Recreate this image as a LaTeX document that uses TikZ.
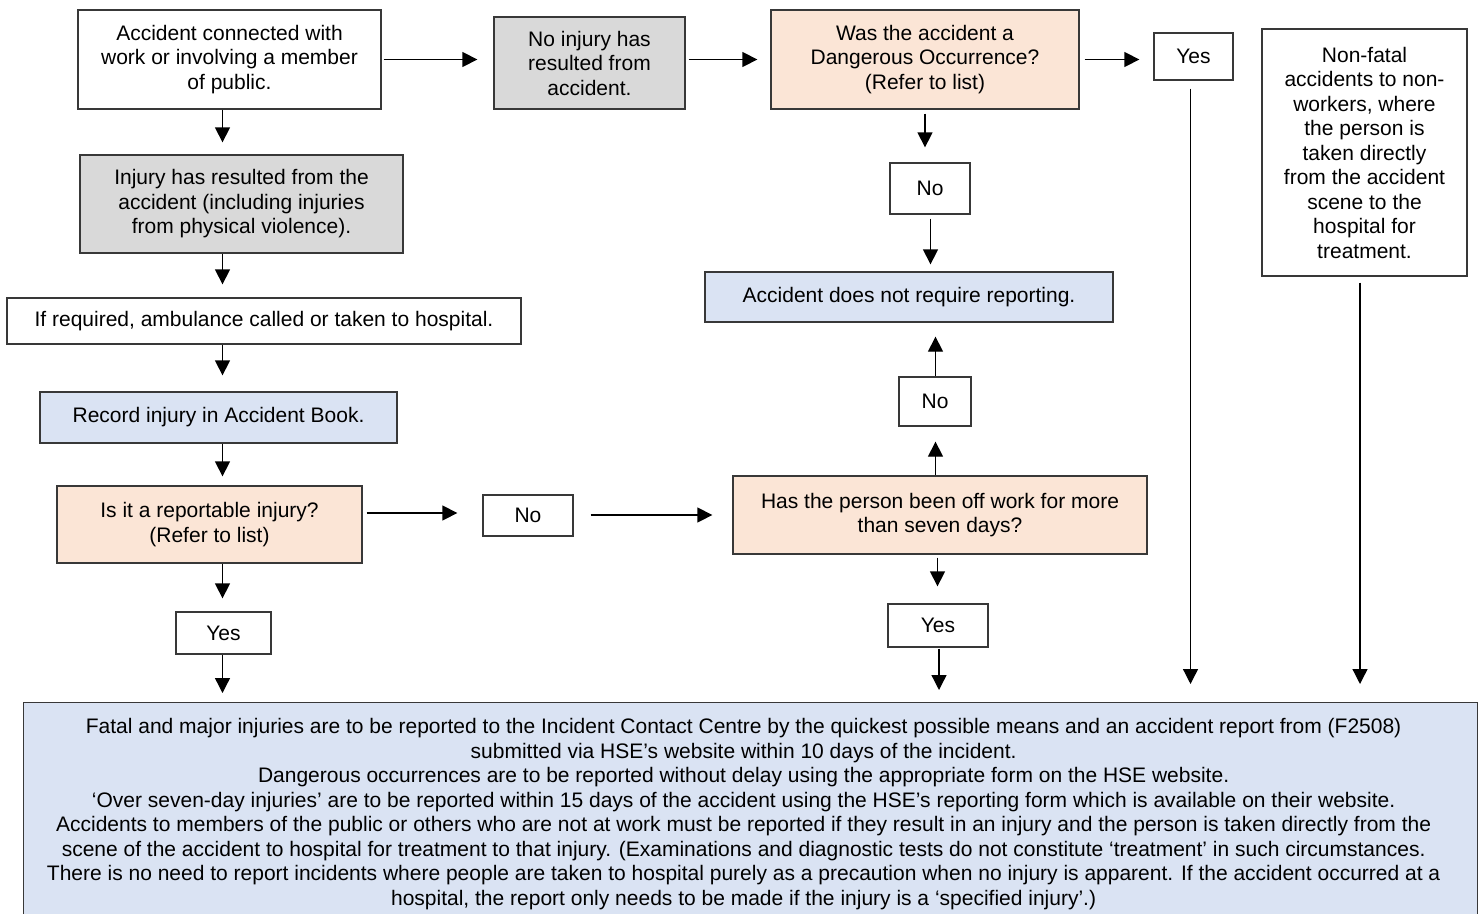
\documentclass[tikz,border=0pt]{standalone}
\usepackage{fontspec}
\setmainfont{Liberation Sans}
\usetikzlibrary{arrows.meta}
\definecolor{gfill}{HTML}{D9D9D9}
\definecolor{pfill}{HTML}{FBE5D6}
\definecolor{bfill}{HTML}{DAE3F3}
\definecolor{edgecol}{HTML}{383838}
\begin{document}
\begin{tikzpicture}[x=1pt,y=-1pt,
  box/.style={draw=edgecol, line width=1.3pt, align=center, inner sep=0pt,
    font=\fontsize{21}{24.5}\selectfont},
  gbox/.style={box, fill=gfill},
  pbox/.style={box, fill=pfill},
  bbox/.style={box, fill=bfill},
  wbox/.style={box, fill=white},
  botbox/.style={draw=edgecol, line width=1.3pt, fill=bfill, inner xsep=0pt, inner ysep=16pt},
  arr/.style={line width=1.3pt, -{Triangle[length=15pt,width=15pt]}}]
\clip (0,0) rectangle (1480,913);
\fill[white] (0,0) rectangle (1480,913);

% nodes
\node[wbox, minimum width=303pt, minimum height=99pt] (A) at (229.5,59.5)
  {Accident connected with\\work or involving a member\\of public.};
\node[gbox, minimum width=191pt, minimum height=92pt] (B) at (589.5,63)
  {No injury has\\resulted from\\accident.};
\node[pbox, minimum width=308pt, minimum height=99pt] (C) at (925,59.5)
  {Was the accident a\\Dangerous Occurrence?\\(Refer to list)};
\node[wbox, minimum width=79pt, minimum height=47pt] (Yes1) at (1193.5,56.5) {Yes};
\node[wbox, minimum width=205pt, minimum height=247pt] (NF) at (1364.5,152.5)
  {Non-fatal\\accidents to non-\\workers, where\\the person is\\taken directly\\from the accident\\scene to the\\hospital for\\treatment.};
\node[gbox, minimum width=323pt, minimum height=98pt] (Inj) at (241.5,204)
  {Injury has resulted from the\\accident (including injuries\\from physical violence).};
\node[wbox, minimum width=514pt, minimum height=46pt] (Amb) at (264,321)
  {If required, ambulance called or taken to hospital.};
\node[bbox, minimum width=357pt, minimum height=51pt] (Rec) at (218.5,417.5)
  {Record injury in Accident Book.};
\node[pbox, minimum width=305pt, minimum height=77pt] (Rep) at (209.5,524.5)
  {Is it a reportable injury?\\(Refer to list)};
\node[wbox, minimum width=90pt, minimum height=41pt] (No1) at (528,515.5) {No};
\node[pbox, minimum width=414pt, minimum height=78pt] (Has) at (940,515)
  {Has the person been off work for more\\than seven days?};
\node[wbox, minimum width=95pt, minimum height=42pt] (Yes2) at (223.5,633) {Yes};
\node[wbox, minimum width=100pt, minimum height=43pt] (Yes3) at (938,625.5) {Yes};
\node[wbox, minimum width=80pt, minimum height=51pt] (No2) at (930,188.5) {No};
\node[bbox, minimum width=408pt, minimum height=50pt] (NotReq) at (909,297)
  {Accident does not require reporting.};
\node[wbox, minimum width=72pt, minimum height=49pt] (No3) at (935,401.5) {No};
\node[botbox, anchor=north west] (Bot) at (23,702)
  {\parbox[t][240pt][t]{1440pt}{\centering\fontsize{21}{24.5}\selectfont
  Fatal and major injuries are to be reported to the Incident Contact Centre by the quickest possible means and an accident report from (F2508)\\
  submitted via HSE’s website within 10 days of the incident.\\
  Dangerous occurrences are to be reported without delay using the appropriate form on the HSE website.\\
  ‘Over seven-day injuries’ are to be reported within 15 days of the accident using the HSE’s reporting form which is available on their website.\\
  Accidents to members of the public or others who are not at work must be reported if they result in an injury and the person is taken directly from the\\
  scene of the accident to hospital for treatment to that injury. (Examinations and diagnostic tests do not constitute ‘treatment’ in such circumstances.\\
  There is no need to report incidents where people are taken to hospital purely as a precaution when no injury is apparent. If the accident occurred at a\\
  hospital, the report only needs to be made if the injury is a ‘specified injury’.)}\hspace*{14pt}};

% column coordinates
\coordinate (colL) at (222.5,0);
\coordinate (colD) at (925,0);
\coordinate (colN) at (930.5,0);
\coordinate (colU) at (935.5,0);
\coordinate (colY) at (937.5,0);
\coordinate (colB) at (939,0);
\coordinate (colR1) at (1190.5,0);
\coordinate (colR2) at (1360,0);
\coordinate (rowR) at (0,513);
\coordinate (rowH) at (0,515);

% horizontal connectors
\draw[arr, shorten <=2pt, shorten >=16pt] (A.east) -- (A.east -| B.west);
\draw[arr, shorten <=3pt, shorten >=13pt] (B.east |- C.west) -- (C.west);
\draw[arr, shorten <=5pt, shorten >=14pt] (C.east) -- (C.east -| Yes1.west);
\draw[arr, shorten <=4pt, shorten >=25pt] (Rep.east |- rowR) -- (No1.west |- rowR);
\draw[arr, shorten <=17pt, shorten >=20pt] (No1.east |- rowH) -- (Has.west |- rowH);

% left column
\draw[arr, shorten >=12pt] (A.south -| colL) -- (Inj.north -| colL);
\draw[arr, shorten >=13pt] (Inj.south -| colL) -- (Amb.north -| colL);
\draw[arr, shorten >=16pt] (Amb.south -| colL) -- (Rec.north -| colL);
\draw[arr, shorten >=9pt] (Rec.south -| colL) -- (Rep.north -| colL);
\draw[arr, shorten >=13pt] (Rep.south -| colL) -- (Yes2.north -| colL);
\draw[arr, shorten >=9pt] (Yes2.south -| colL) -- (Bot.north -| colL);

% middle column
\draw[arr, shorten <=4pt, shorten >=15pt] (C.south -| colD) -- (No2.north -| colD);
\draw[arr, shorten <=4pt, shorten >=7pt] (No2.south -| colN) -- (NotReq.north -| colN);
\draw[arr, shorten >=15pt] (Has.north -| colU) -- (No3.south -| colU);
\draw[arr, shorten >=14pt] (No3.north -| colU) -- (NotReq.south -| colU);
\draw[arr, shorten <=3pt, shorten >=17pt] (Has.south -| colY) -- (Yes3.north -| colY);
\draw[arr, shorten <=1pt, shorten >=12pt] (Yes3.south -| colB) -- (Bot.north -| colB);

% right long connectors
\draw[arr, shorten <=8pt, shorten >=18pt] (Yes1.south -| colR1) -- (Bot.north -| colR1);
\draw[arr, shorten <=6pt, shorten >=18pt] (NF.south -| colR2) -- (Bot.north -| colR2);
\end{tikzpicture}
\end{document}
